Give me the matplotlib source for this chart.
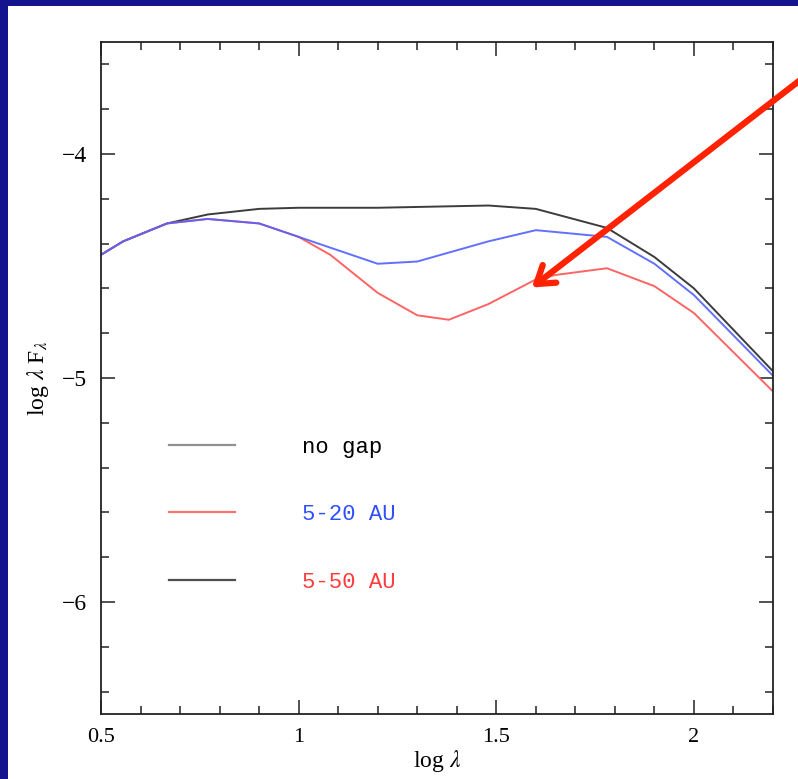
import numpy as np
import matplotlib.pyplot as plt
from matplotlib.patches import Rectangle
from matplotlib.lines import Line2D
from matplotlib.ticker import MultipleLocator

plt.rcParams['font.family'] = ['Liberation Serif', 'DejaVu Serif']
plt.rcParams['mathtext.fontset'] = 'stix'

# SED curves
x_nogap = [0.5, 0.556, 0.667, 0.77, 0.9, 1.0, 1.2, 1.48, 1.6, 1.78, 1.9, 2.0, 2.2]
y_nogap = [-4.45, -4.39, -4.31, -4.27, -4.245, -4.24, -4.24, -4.23, -4.245, -4.33, -4.46, -4.6, -4.97]

x_gap20 = [0.5, 0.556, 0.667, 0.77, 0.9, 1.0, 1.2, 1.3, 1.48, 1.6, 1.78, 1.9, 2.0, 2.2]
y_gap20 = [-4.45, -4.39, -4.31, -4.29, -4.31, -4.37, -4.49, -4.48, -4.39, -4.34, -4.37, -4.49, -4.63, -4.99]

x_gap50 = [0.5, 0.556, 0.667, 0.77, 0.9, 1.0, 1.08, 1.2, 1.3, 1.38, 1.48, 1.6, 1.65, 1.78, 1.9, 2.0, 2.2]
y_gap50 = [-4.45, -4.39, -4.31, -4.29, -4.31, -4.37, -4.45, -4.62, -4.72, -4.74, -4.67, -4.56, -4.54, -4.51, -4.59, -4.71, -5.06]

legend_labels = ['no gap', '5-20 AU', '5-50 AU']
arrow_tip = (1.59, -4.596)

fig = plt.figure(figsize=(7.98, 7.79), dpi=100)
fig.patch.set_facecolor('#14148f')
# white slide panel inside the blue border
fig.patches.append(Rectangle((8 / 798, 0), 1, 1 - 6 / 779, transform=fig.transFigure,
                             facecolor='white', edgecolor='none', zorder=-5))

ax = fig.add_axes([101 / 798, 65 / 779, 672 / 798, 672 / 779])
ax.set_zorder(1)
ax.plot(x_nogap, y_nogap, color='#3c3c3c', lw=1.4)
ax.plot(x_gap50, y_gap50, color='#ff6464', lw=1.4)
ax.plot(x_gap20, y_gap20, color='#5060ff', lw=1.4, alpha=0.9)

ax.set_xlim(0.5, 2.2)
ax.set_ylim(-6.5, -3.5)
ax.xaxis.set_major_locator(MultipleLocator(0.5))
ax.xaxis.set_minor_locator(MultipleLocator(0.1))
ax.yaxis.set_major_locator(MultipleLocator(1))
ax.yaxis.set_minor_locator(MultipleLocator(0.2))
ax.tick_params(which='both', direction='in', top=True, right=True, width=1.2, colors='#333333')
ax.tick_params(which='major', length=10, pad=10, labelcolor='black')
ax.tick_params(which='minor', length=5.5)
ax.tick_params(axis='x', labelsize=16)
ax.tick_params(axis='y', labelsize=17)
ax.set_xticks([0.5, 1, 1.5, 2])
ax.set_xticklabels(['0.5', '1', '1.5', '2'])
ax.set_yticks([-6, -5, -4])
ax.set_yticklabels(['\u22126', '\u22125', '\u22124'])
for s in ax.spines.values():
    s.set_linewidth(1.3)
    s.set_color('#222222')

ax.set_xlabel(r'log $\lambda$', fontsize=17, labelpad=1)
ax.set_ylabel(r'log $\lambda$ F$_{\lambda}$', fontsize=17, labelpad=8)

handles = [Line2D([], [], color='#909090', lw=1.6),
           Line2D([], [], color='#ff7070', lw=1.6),
           Line2D([], [], color='#505050', lw=1.6)]
leg = ax.legend(handles, legend_labels, loc='upper left', bbox_to_anchor=(0.101, 0.4125),
                frameon=False, borderpad=0, borderaxespad=0,
                prop={'family': 'Liberation Mono', 'size': 16},
                handlelength=2.97, handletextpad=3.0, labelspacing=2.09)
for t, c in zip(leg.get_texts(), ['black', '#3050ff', '#ff3b3b']):
    t.set_color(c)

ax.annotate('', xy=arrow_tip, xycoords='data', xytext=(1.01, 0.903), textcoords='figure fraction',
            arrowprops=dict(arrowstyle='->, head_length=1.2, head_width=0.8',
                            color='#ff2200', lw=4.5, shrinkA=0, shrinkB=0),
            annotation_clip=False)

fig.savefig('out.png', dpi=100, facecolor=fig.get_facecolor())
